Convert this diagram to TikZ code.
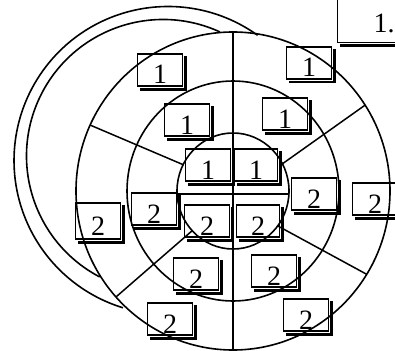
\documentclass[tikz,border=0pt]{standalone}
\usepackage{fontspec}
\setmainfont{Liberation Serif}
\usetikzlibrary{calc}

\begin{document}
\begin{tikzpicture}[x=1pt, y=-1pt,
  ring/.style={line width=1.6pt},
  sector/.style={line width=1.5pt},
  numbox/.style={draw, line width=1.2pt, minimum width=45pt, minimum height=32pt,
                 inner sep=0pt, text height=28pt, text depth=0pt,
                 font=\fontsize{28}{32}\selectfont},
  boxshadow/.style={line width=2.8pt},
]
  \useasboundingbox (0,0) rectangle (395,350);
  \clip (0,0) rectangle (395,350);

  \coordinate (o)  at (233,191);
  \coordinate (p1) at (168,160.5);
  \coordinate (p2) at (163,156);

  % Earlier positions of the rim
  \draw[ring] (p1) ++(-54.4:154) arc[start angle=-54.4, end angle=-253, radius=154];
  \draw[ring] (p2) ++(-65.4:136.5) arc[start angle=-65.4, end angle=-242.4, radius=136.5];

  % Concentric rings
  \draw[ring] (o) circle[x radius=157, y radius=159];
  \draw[ring] (o) circle[x radius=106, y radius=110];
  \draw[ring] (o) circle[x radius=56, y radius=58];

  % Sector lines
  \draw[sector] ($(o)+(0,-159)$) -- ($(o)+(0,159)$);
  \draw[sector] ($(o)+(-56,3)$) -- ($(o)+(56,3)$);
  \draw[sector] ($(o)+(-153:56 and 58)$) -- ($(o)+(-155.5:157 and 159)$);
  \draw[sector] ($(o)+(-28:56 and 58)$)  -- ($(o)+(-32.7:157 and 159)$);
  \draw[sector] ($(o)+(136.8:56 and 58)$) -- ($(o)+(138.2:157 and 159)$);
  \draw[sector] ($(o)+(37:56 and 58)$)   -- ($(o)+(31.6:157 and 159)$);

  % Numbered boxes
  \node[numbox] (b1)  at (160,70)  {1};
  \node[numbox] (b2)  at (309,63)  {1};
  \node[numbox] (b3)  at (187,120) {1};
  \node[numbox] (b4)  at (285,114) {1};
  \node[numbox] (b5)  at (208,165) {1};
  \node[numbox, minimum width=43pt] (b6) at (256,165) {1};
  \node[numbox] (b7)  at (207,221) {2};
  \node[numbox, minimum width=43pt] (b8) at (258,221) {2};
  \node[numbox] (b9)  at (314,194) {2};
  \node[numbox] (b10) at (375,199) {2};
  \node[numbox] (b11) at (154,209) {2};
  \node[numbox, minimum height=36pt] (b12) at (98,221) {2};
  \node[numbox] (b13) at (196,274) {2};
  \node[numbox] (b14) at (274,271) {2};
  \node[numbox] (b15) at (170,319) {2};
  \node[numbox] (b16) at (306,315) {2};

  \node[numbox, anchor=south west, minimum width=0pt, minimum height=0pt,
        inner xsep=36pt, inner ysep=10pt, text height=40pt] (key) at (337,43) {1.};

  % Box shadows
  \foreach \i in {1,...,16}
    \draw[boxshadow] ([shift={(2.5,3)}]b\i.north east) |- ([shift={(3,2.5)}]b\i.south west);
  \draw[boxshadow] ([shift={(3,2.5)}]key.south west) -- ([shift={(0,2.5)}]key.south east);
\end{tikzpicture}
\end{document}
